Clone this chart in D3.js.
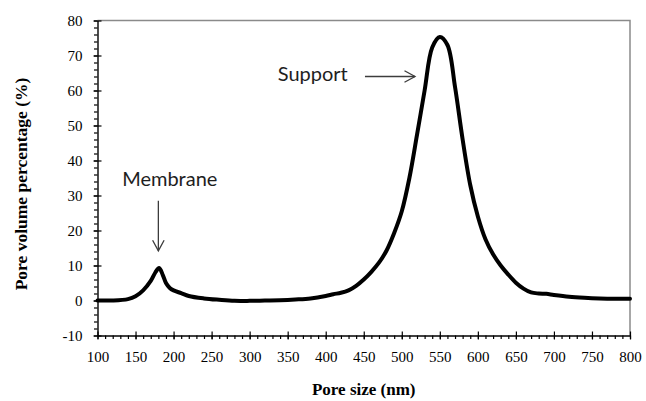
<!DOCTYPE html>
<html>
<head>
<meta charset="utf-8">
<script src="https://cdn.jsdelivr.net/npm/d3@7"></script>
<style>
  body { margin: 0; background: #fff; }
  svg { display: block; }
</style>
</head>
<body>
<svg id="chart" width="646" height="401"></svg>
<script>
// Pore size distribution (nm) and pore volume percentage (%)
const poreSize = [100, 120, 140, 150, 160, 170, 176, 181, 186, 190, 195, 200, 210, 220, 240, 260, 280, 300, 320, 340, 360, 380, 400, 410, 420, 430, 440, 450, 460, 470, 480, 490, 500, 510, 520, 530, 540, 550, 560, 570, 580, 590, 600, 610, 620, 630, 640, 650, 660, 670, 680, 690, 700, 720, 740, 760, 780, 800];
const poreVolume = [0, 0, 0.4, 1.2, 2.9, 5.6, 8.0, 9.3, 7.2, 5.0, 3.6, 2.9, 2.1, 1.3, 0.6, 0.2, -0.1, -0.1, 0, 0.1, 0.3, 0.6, 1.3, 1.8, 2.2, 2.9, 4.2, 6.0, 8.2, 10.8, 14.3, 19.3, 25.5, 35.0, 47.3, 60.0, 72.3, 75.3, 73.0, 61.0, 46.0, 33.0, 24.0, 17.5, 13.2, 10.0, 7.4, 5.1, 3.4, 2.3, 2.0, 1.9, 1.6, 1.1, 0.8, 0.6, 0.5, 0.5];

const xTicks = d3.range(100, 801, 50);
const xMinorTicks = d3.range(100, 801, 10);
const yTicks = d3.range(-10, 81, 10);
const yMinorTicks = d3.range(-10, 81, 2);
const xTitle = "Pore size (nm)";
const yTitle = "Pore volume percentage (%)";
const peakNames = ["Membrane", "Support"];

const svg = d3.select("#chart");
const width = 646, height = 401;
const plot = { left: 97.5, right: 630, top: 20.5, bottom: 335.5 };

svg.append("rect").attr("width", width).attr("height", height).attr("fill", "#fff");

const x = d3.scaleLinear().domain([100, 800]).range([plot.left, plot.right]);
const y = d3.scaleLinear().domain([-10, 80]).range([plot.bottom, plot.top]);

// frame: top and right edges in grey
svg.append("path")
  .attr("d", `M${plot.left},${plot.top}H${plot.right}V${plot.bottom}`)
  .attr("fill", "none").attr("stroke", "#8a8a8a").attr("stroke-width", 1.5);

const tickFont = "'Liberation Serif', 'Times New Roman', serif";
const plainNumber = d => String(d);

// minor ticks (outside only)
const yMinor = svg.append("g").attr("transform", `translate(${plot.left},0)`)
  .call(d3.axisLeft(y).tickValues(yMinorTicks).tickSize(3.5).tickFormat(""));
yMinor.select(".domain").remove();
const xMinor = svg.append("g").attr("transform", `translate(0,${plot.bottom})`)
  .call(d3.axisBottom(x).tickValues(xMinorTicks).tickSize(3.5).tickFormat(""));
xMinor.select(".domain").remove();

// major axes: ticks cross the axis line
const yAxis = svg.append("g").attr("transform", `translate(${plot.left},0)`)
  .call(d3.axisLeft(y).tickValues(yTicks).tickSize(4).tickSizeOuter(0).tickPadding(11).tickFormat(plainNumber));
yAxis.selectAll(".tick line").attr("x1", 4);
yAxis.selectAll("text").attr("font-family", tickFont).attr("font-size", 15).attr("fill", "#000");

const xAxis = svg.append("g").attr("transform", `translate(0,${plot.bottom})`)
  .call(d3.axisBottom(x).tickValues(xTicks).tickSize(4).tickSizeOuter(0).tickPadding(12).tickFormat(plainNumber));
xAxis.selectAll(".tick line").attr("y1", -4);
xAxis.selectAll("text").attr("font-family", tickFont).attr("font-size", 15).attr("fill", "#000");

[yAxis, xAxis, yMinor, xMinor].forEach(g => {
  g.selectAll("line").attr("stroke", "#000").attr("stroke-width", 1.2);
  g.select(".domain").attr("stroke", "#000").attr("stroke-width", 1.4);
});

// axis titles
svg.append("text")
  .attr("x", (plot.left + plot.right) / 2).attr("y", 395)
  .attr("text-anchor", "middle")
  .attr("font-family", tickFont).attr("font-weight", "bold").attr("font-size", 17)
  .text(xTitle);
svg.append("text")
  .attr("transform", `translate(27,${(plot.top + plot.bottom) / 2 + 6}) rotate(-90)`)
  .attr("text-anchor", "middle")
  .attr("font-family", tickFont).attr("font-weight", "bold").attr("font-size", 17.5)
  .text(yTitle);

// distribution curve
const line = d3.line()
  .x((d, i) => x(poreSize[i]))
  .y(d => y(d))
  .curve(d3.curveCatmullRom.alpha(0.5));
svg.append("path")
  .datum(poreVolume)
  .attr("d", line)
  .attr("fill", "none")
  .attr("stroke", "#000")
  .attr("stroke-width", 4)
  .attr("stroke-linejoin", "round")
  .attr("stroke-linecap", "round");

// peak annotations with open arrows
const labelFont = "Lato, 'Open Sans', sans-serif";
const arrowColor = "#3c3c3c";

function arrow(x1, y1, x2, y2) {
  const ang = Math.atan2(y2 - y1, x2 - x1);
  const len = 12, spread = 0.5;
  const a1 = ang + Math.PI - spread, a2 = ang + Math.PI + spread;
  svg.append("line")
    .attr("x1", x1).attr("y1", y1).attr("x2", x2).attr("y2", y2)
    .attr("stroke", arrowColor).attr("stroke-width", 1.3);
  svg.append("path")
    .attr("d", `M${x2 + len * Math.cos(a1)},${y2 + len * Math.sin(a1)}L${x2},${y2}L${x2 + len * Math.cos(a2)},${y2 + len * Math.sin(a2)}`)
    .attr("fill", "none").attr("stroke", arrowColor).attr("stroke-width", 1.3);
}

// Membrane peak (~180 nm)
svg.append("text")
  .attr("x", x(195)).attr("y", y(32.7))
  .attr("text-anchor", "middle")
  .attr("font-family", labelFont).attr("font-size", 20).attr("fill", "#1e1e1e")
  .text(peakNames[0]);
arrow(x(180), y(28.5), x(180), y(14.2));

// Support peak (~550 nm)
svg.append("text")
  .attr("x", x(429)).attr("y", y(62.8))
  .attr("text-anchor", "end")
  .attr("font-family", labelFont).attr("font-size", 20).attr("fill", "#1e1e1e")
  .text(peakNames[1]);
arrow(x(451.6), y(64), x(517.4), y(64));
</script>
</body>
</html>
